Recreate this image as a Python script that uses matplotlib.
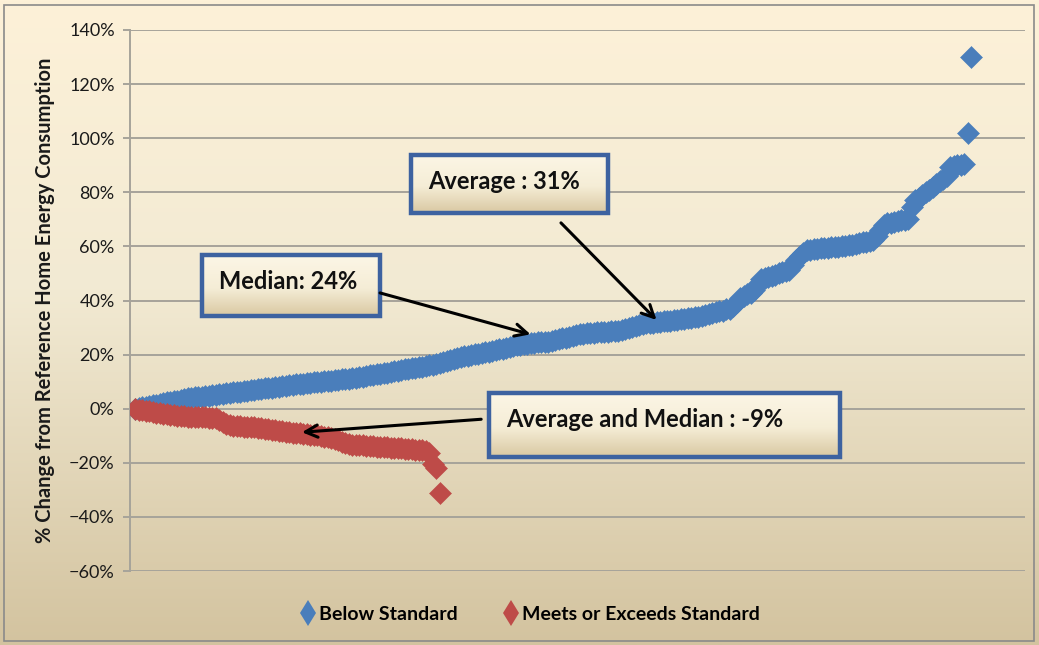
import numpy as np
import matplotlib
matplotlib.use("Agg")
import matplotlib.pyplot as plt
from matplotlib.colors import LinearSegmentedColormap
from matplotlib.patches import Rectangle
from matplotlib.lines import Line2D
from matplotlib.ticker import PercentFormatter

# ---------------- data (percent change, sorted) ----------------
below_standard = [
    0.0, 0.3, 0.6, 0.8, 1.0, 1.3, 1.5, 1.8,
    2.0, 2.3, 2.5, 2.8, 3.0, 3.3, 3.5, 3.8, 4.0,
    4.2, 4.3, 4.5, 4.7, 4.8, 5.0, 5.2, 5.3, 5.5, 5.7, 5.8, 6.0, 6.2, 6.3, 6.5, 6.6, 6.8, 7.0, 7.1,
    7.3, 7.5, 7.6, 7.8, 8.0, 8.2, 8.3, 8.5, 8.7, 8.8, 9.0, 9.2,
    9.3, 9.4, 9.6, 9.7, 9.8, 10.0, 10.1, 10.2, 10.4, 10.5, 10.7, 10.8, 11.0, 11.1, 11.3, 11.5,
    11.7, 11.9, 12.1, 12.3, 12.5, 12.7, 12.9, 13.1, 13.3, 13.5, 13.8, 14.0,
    14.3, 14.5, 14.7, 15.0, 15.2, 15.4, 15.6, 15.8, 16.0,
    16.2, 16.5, 16.8, 17.2, 17.6, 18.0, 18.3, 18.7, 19.0,
    19.3, 19.6, 19.8, 20.1, 20.3, 20.5, 20.8, 21.0,
    21.3, 21.6, 21.9, 22.2, 22.5, 22.8, 23.1, 23.4, 23.7, 24.0,
    24.1, 24.2, 24.3, 24.5, 24.6, 24.7, 24.8, 25.0,
    25.3, 25.6, 26.0, 26.3, 26.6, 27.0, 27.3, 27.5, 27.8,
    27.9, 28.0, 28.1, 28.2, 28.3, 28.4, 28.5, 28.6, 28.7, 28.8, 29.0,
    29.3, 29.7, 30.1, 30.5, 30.8, 31.2, 31.5,
    31.7, 31.8, 32.0, 32.1, 32.3, 32.4, 32.6, 32.7, 32.9, 33.0, 33.2, 33.4, 33.6, 33.8, 34.0,
    34.3, 34.6, 34.9, 35.2, 35.6, 36.0, 36.3, 36.7, 37.0,
    38.0, 39.5, 41.0, 41.8, 42.3, 42.8,
    44.0, 46.0, 48.0, 48.4, 48.8, 49.2, 49.6, 50.0, 50.4, 50.8, 51.2,
    53.0, 55.0, 56.5, 57.5, 58.5,
    58.7, 58.9, 59.1, 59.3, 59.4, 59.5, 59.6, 59.7, 59.8, 60.0, 60.2, 60.4, 60.6, 60.9, 61.2, 61.5, 61.8, 62.0, 62.3,
    64.0, 66.0, 68.0,
    68.6, 68.8, 69.0, 69.3, 69.6, 69.8, 70.0,
    74.5,
    77.0, 78.0, 79.0, 80.0, 81.0, 82.0, 83.0, 84.0, 85.0, 86.0,
    89.5, 89.8, 90.0, 90.2, 90.4,
    102.0,
    130.0,
]

meets_or_exceeds = [
    0.0, -0.3, -0.5, -0.8, -1.0, -1.2, -1.5,
    -1.7, -1.9, -2.1, -2.3, -2.4, -2.6, -2.7, -2.8, -2.9, -3.0,
    -3.1, -3.1, -3.2, -3.2, -3.3, -3.3, -3.4,
    -4.2, -5.0, -5.8, -6.2,
    -6.3, -6.4, -6.5, -6.6, -6.7, -6.8, -6.9, -7.0,
    -7.2, -7.4, -7.6, -7.8, -8.0, -8.2, -8.4, -8.5,
    -8.7, -8.8, -9.0, -9.1, -9.3, -9.4, -9.6, -9.7,
    -9.9, -10.1, -10.3, -10.5, -10.7,
    -11.2, -11.7, -12.2, -12.6, -13.0, -13.3,
    -13.4, -13.5, -13.6, -13.7, -13.8, -13.9, -14.0, -14.1, -14.2, -14.3, -14.4,
    -14.5, -14.6, -14.7, -14.8, -14.9, -15.0, -15.1, -15.2, -15.4, -15.8,
    -16.2, -20.5, -22.0, -31.0,
]

series_labels = ["Below Standard", "Meets or Exceeds Standard"]
y_ticks = [-60, -40, -20, 0, 20, 40, 60, 80, 100, 120, 140]
y_label = "% Change from Reference Home Energy Consumption"
note_average = "Average : 31%"
note_median = "Median: 24%"
note_red = "Average and Median : -9%"

# ---------------- style ----------------
BLUE = "#4A7EBB"
RED = "#BE4B48"
FONT = ["Lato", "DejaVu Sans"]
plt.rcParams["font.family"] = FONT

W, H = 1039, 645
fig = plt.figure(figsize=(W / 100, H / 100), dpi=100)

# figure background gradient
bg = fig.add_axes([0, 0, 1, 1], zorder=-10)
bg_cmap = LinearSegmentedColormap.from_list(
    "bg", [(0.0, "#FDF1D8"), (0.45, "#F2EAD3"), (1.0, "#D3C39F")])
bg.imshow(np.linspace(0, 1, 256).reshape(-1, 1), cmap=bg_cmap, aspect="auto",
          extent=[0, 1, 0, 1], origin="upper")
bg.set_axis_off()
fig.patches.append(Rectangle((4 / W, 4 / H), 1 - 9 / W, 1 - 9 / H, transform=fig.transFigure,
                             fill=False, edgecolor="#8A8A8A", lw=1.2))

# main axes
left, right, top, bottom = 130, 1025, 30, 571
ax = fig.add_axes([left / W, 1 - bottom / H, (right - left) / W, (bottom - top) / H])
ax.set_facecolor("none")

xb = np.arange(len(below_standard))
xr = np.arange(len(meets_or_exceeds))
ax.plot(xb, below_standard, linestyle="none", marker="D", ms=11.5, color=BLUE,
        mec=BLUE, mew=0.4, zorder=3)
ax.plot(xr, meets_or_exceeds, linestyle="none", marker="D", ms=11.5, color=RED,
        mec=RED, mew=0.4, zorder=4)

ax.set_xlim(-1.45, 254.3)
ax.set_ylim(-60, 140)
ax.set_yticks(y_ticks)
ax.yaxis.set_major_formatter(PercentFormatter(decimals=0))
ax.set_xticks([])
ax.grid(axis="y", color="#A6A39A", lw=1.4, zorder=0)
ax.set_axisbelow(True)
for s in ["top", "right", "bottom"]:
    ax.spines[s].set_visible(False)
ax.spines["left"].set_color("#A6A39A")
ax.spines["left"].set_linewidth(1.4)
ax.tick_params(axis="y", length=5, width=1.4, color="#A6A39A", labelsize=13,
               labelcolor="#1A1A1A", pad=6)
ax.set_ylabel(y_label, fontsize=14.5, fontweight="bold", color="#1A1A1A", labelpad=10)

# ---------------- text boxes with arrows ----------------
box_cmap = LinearSegmentedColormap.from_list(
    "box", [(0.0, "#FCF6E6"), (0.55, "#F5EDD6"), (1.0, "#D9C8A2")])


def note_box(x0, x1, y0, y1, text, tx, ty):
    ax.imshow(np.linspace(0, 1, 128).reshape(-1, 1), cmap=box_cmap, aspect="auto",
              extent=[x0, x1, y0, y1], origin="upper", zorder=6)
    ax.add_patch(Rectangle((x0, y0), x1 - x0, y1 - y0, fill=False,
                           edgecolor="#3D62A0", lw=3.2, zorder=7))
    ax.text(tx, ty, text, fontsize=17, fontweight="bold", color="#111111",
            ha="left", va="center", zorder=8)


def arrow(xy_from, xy_to):
    ax.annotate("", xy=xy_to, xytext=xy_from,
                arrowprops=dict(arrowstyle="->", color="black", lw=2.2,
                                mutation_scale=22, shrinkA=0, shrinkB=0),
                zorder=9)


note_box(78.9, 135.1, 72.4, 93.9, note_average, 83.8, 84.0)
arrow((121.7, 68.7), (149.0, 32.8))

note_box(19.1, 70.0, 34.4, 56.7, note_median, 24.0, 47.0)
arrow((70.0, 42.8), (113.0, 27.5))

note_box(101.0, 201.4, -18.0, 5.7, note_red, 105.9, -4.0)
arrow((98.9, -3.9), (47.7, -8.7))

ax.set_xlim(-1.45, 254.3)
ax.set_ylim(-60, 140)

# ---------------- legend ----------------
handles = [Line2D([], [], linestyle="none", marker="d", ms=13, color=BLUE, mew=0),
           Line2D([], [], linestyle="none", marker="d", ms=13, color=RED, mew=0)]
fig.legend(handles, series_labels, loc="center", bbox_to_anchor=(531 / W, 1 - 614 / H),
           ncol=2, frameon=False, handlelength=0.6, handletextpad=0.3, columnspacing=2.4,
           prop=dict(family=FONT, weight="bold", size=14))

fig.savefig("out.png", dpi=100)
